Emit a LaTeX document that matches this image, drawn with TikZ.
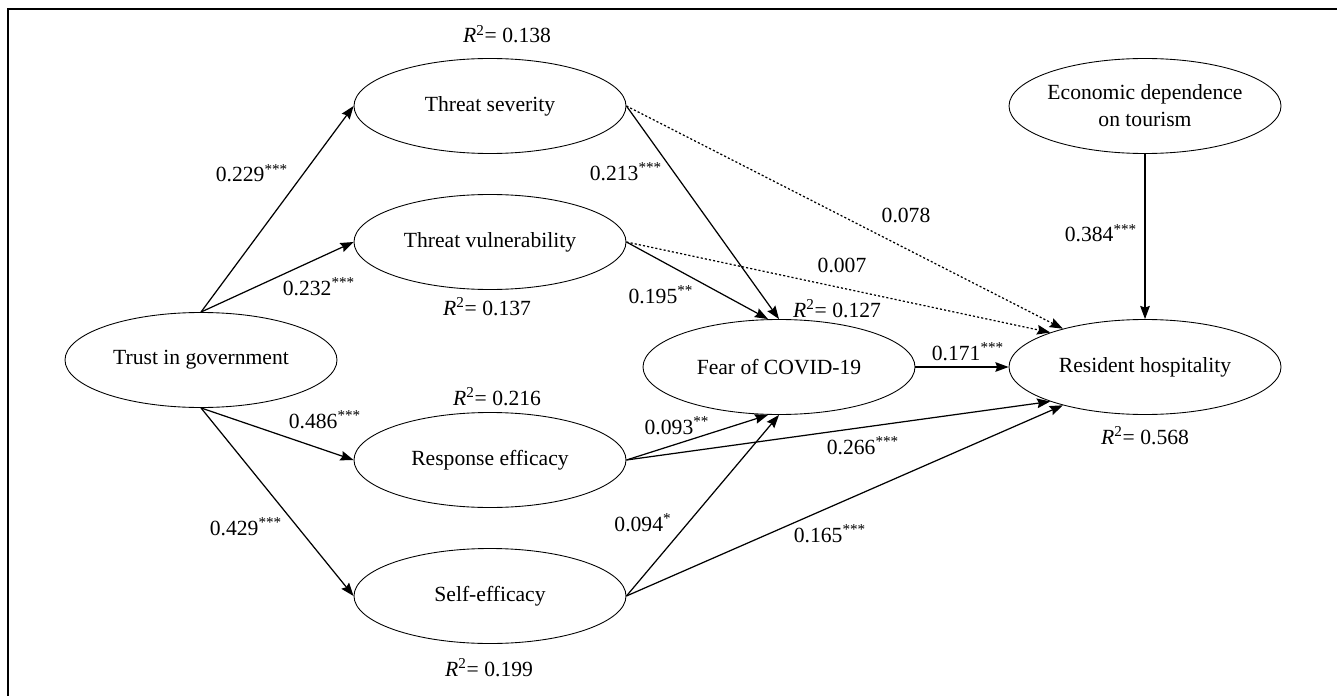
\documentclass[tikz,border=0pt]{standalone}
\usepackage{fontspec}
\setmainfont{Liberation Serif}
\usepackage{tikz}
\usetikzlibrary{shapes.geometric, arrows.meta, positioning}
\tikzstyle{latent} = [ellipse, draw=black, line width=0.5pt, minimum width=5.44cm, minimum height=1.9cm, inner sep=0pt, align=center, fill=white, font=\fontsize{12.3}{15.4}\selectfont]
\tikzstyle{coef} = [anchor=base, inner sep=0pt, font=\fontsize{12.3}{15}\selectfont]
\tikzstyle{arrow} = [line width=0.7pt, -{Stealth[length=7.5pt,width=5.5pt,inset=1pt]}]
\tikzstyle{nsarrow} = [arrow, dash pattern=on 1.2pt off 1.2pt]

\newcommand{\rsq}[1]{\textit{R}\textsuperscript{2}= #1}
\newcommand{\sig}[2]{#1\textsuperscript{#2}}

\begin{document}
\begin{tikzpicture}[node distance=2.72cm]
\useasboundingbox (0,0) rectangle (26.74,-13.92);
\draw [line width=1.1pt] (0.16,-14) -- (0.16,-0.18) -- (27,-0.18);

% constructs
\node (sev) [latent, xshift=9.8cm, yshift=-2.12cm] {Threat severity};
\node (vul) [latent, below of=sev] {Threat vulnerability};
\node (resp) [latent, below of=vul, yshift=-1.64cm] {Response efficacy};
\node (self) [latent, below of=resp] {Self-efficacy};
\node (trust) [latent, xshift=4.02cm, yshift=-7.2cm] {Trust in government};
\node (fear) [latent, xshift=15.58cm, yshift=-7.34cm] {Fear of COVID-19};
\node (host) [latent, xshift=22.9cm, yshift=-7.34cm] {Resident hospitality};
\node (econ) [latent, above of=host, yshift=2.5cm, inner xsep=-2pt] {Economic dependence\\on tourism};

% explained variance
\node (r2sev) [coef] at (10.14,-0.86) {\rsq{0.138}};
\node (r2vul) [coef] at (9.74,-6.3) {\rsq{0.137}};
\node (r2resp) [coef] at (9.94,-8.1) {\rsq{0.216}};
\node (r2self) [coef] at (9.78,-13.52) {\rsq{0.199}};
\node (r2fear) [coef] at (16.74,-6.34) {\rsq{0.127}};
\node (r2host) [coef] at (22.9,-8.88) {\rsq{0.568}};

% paths
\draw [arrow] (trust.north) -- (sev.west);
\draw [arrow] (trust.north) -- (vul.west);
\draw [arrow] (trust.south) -- (resp.west);
\draw [arrow] (trust.south) -- (self.west);
\draw [arrow] (sev.east) -- (fear.north);
\draw [arrow] (vul.east) -- ([xshift=-0.22cm]fear.north);
\draw [arrow] (resp.east) -- ([xshift=-0.22cm]fear.south);
\draw [arrow] (self.east) -- (fear.south);
\draw [nsarrow] (sev.east) -- (host.155);
\draw [nsarrow] (vul.east) -- (host.160);
\draw [arrow] (resp.east) -- (host.200);
\draw [arrow] (self.east) -- (host.205);
\draw [arrow] (fear.east) -- (host.west);
\draw [arrow] (econ.south) -- (host.north);

% coefficients
\node (c229) [coef] at (5.04,-3.64) {\sig{0.229}{***}};
\node (c232) [coef] at (6.38,-5.9) {\sig{0.232}{***}};
\node (c486) [coef] at (6.5,-8.56) {\sig{0.486}{***}};
\node (c429) [coef] at (4.92,-10.7) {\sig{0.429}{***}};
\node (c213) [coef] at (12.52,-3.6) {\sig{0.213}{***}};
\node (c195) [coef] at (13.22,-6.06) {\sig{0.195}{**}};
\node (c093) [coef] at (13.54,-8.68) {\sig{0.093}{**}};
\node (c094) [coef] at (12.86,-10.62) {\sig{0.094}{*}};
\node (c078) [coef] at (18.12,-4.44) {0.078};
\node (c007) [coef] at (16.84,-5.44) {0.007};
\node (c384) [coef] at (22.02,-4.84) {\sig{0.384}{***}};
\node (c171) [coef] at (19.36,-7.2) {\sig{0.171}{***}};
\node (c266) [coef] at (17.26,-9.08) {\sig{0.266}{***}};
\node (c165) [coef] at (16.6,-10.84) {\sig{0.165}{***}};
\end{tikzpicture}
\end{document}
